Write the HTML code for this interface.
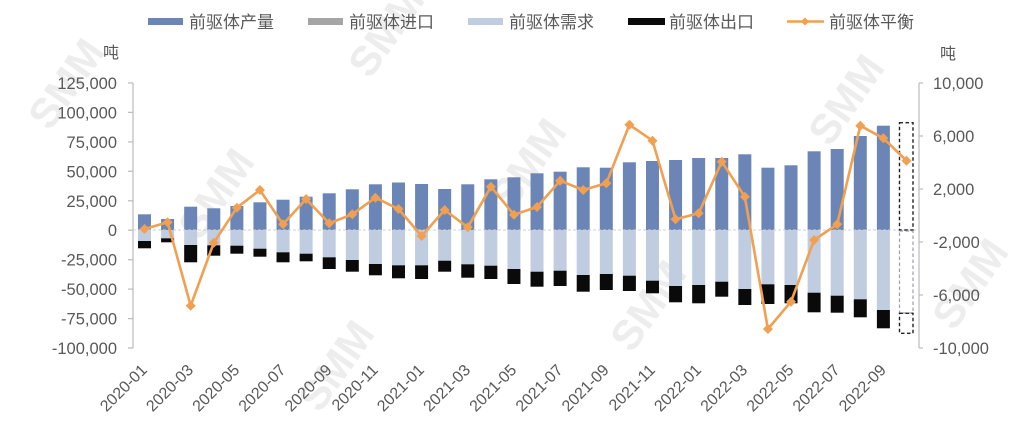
<!DOCTYPE html>
<html><head><meta charset="utf-8"><style>
html,body{margin:0;padding:0;background:#fff;}
svg{display:block;}
text{font-family:"Liberation Sans","Noto Sans CJK SC",sans-serif;fill:#595959;}
text.wm{fill:#ededed;font-weight:bold;font-size:42px;}
</style></head><body>
<svg width="1024" height="428" viewBox="0 0 1024 428" xmlns="http://www.w3.org/2000/svg">
<rect width="1024" height="428" fill="#fff"/>
<g>
<text class="wm" x="0" y="0" transform="translate(78,92) rotate(-55)" text-anchor="middle">SMM</text>
<text class="wm" x="0" y="0" transform="translate(398,40) rotate(-55)" text-anchor="middle">SMM</text>
<text class="wm" x="0" y="0" transform="translate(858,108) rotate(-55)" text-anchor="middle">SMM</text>
<text class="wm" x="0" y="0" transform="translate(982,292) rotate(-55)" text-anchor="middle">SMM</text>
<text class="wm" x="0" y="0" transform="translate(348,374) rotate(-55)" text-anchor="middle">SMM</text>
<text class="wm" x="0" y="0" transform="translate(660,314) rotate(-55)" text-anchor="middle">SMM</text>
<text class="wm" x="0" y="0" transform="translate(540,172) rotate(-55)" text-anchor="middle">SMM</text>
<text class="wm" x="0" y="0" transform="translate(228,202) rotate(-55)" text-anchor="middle">SMM</text>
</g>

<!-- legend -->
<rect x="148" y="18" width="35" height="7" fill="#6b86b6"/>
<text x="189" y="28" font-size="17">前驱体产量</text>
<rect x="308" y="18" width="35" height="7" fill="#a5a5a5"/>
<text x="349" y="28" font-size="17">前驱体进口</text>
<rect x="468" y="18" width="35" height="7" fill="#c0cde1"/>
<text x="509" y="28" font-size="17">前驱体需求</text>
<rect x="628" y="18" width="37" height="7" fill="#0a0a0a"/>
<text x="669" y="28" font-size="17">前驱体出口</text>
<line x1="787" y1="21.5" x2="824" y2="21.5" stroke="#f0a050" stroke-width="2.5"/>
<path d="M805,17.5 L809,21.5 L805,25.5 L801,21.5Z" fill="#f0a050"/>
<text x="829" y="28" font-size="17">前驱体平衡</text>

<!-- unit labels -->
<text x="103" y="58" font-size="16">吨</text>
<text x="940" y="59" font-size="16">吨</text>

<!-- axes -->
<line x1="133" y1="83" x2="133" y2="348" stroke="#bfbfbf" stroke-width="1.3"/>
<line x1="919" y1="83" x2="919" y2="348" stroke="#bfbfbf" stroke-width="1.3"/>
<g stroke="#bfbfbf" stroke-width="1.3">
<line x1="128" y1="83" x2="133" y2="83"/><line x1="128" y1="112.4" x2="133" y2="112.4"/>
<line x1="128" y1="141.9" x2="133" y2="141.9"/><line x1="128" y1="171.3" x2="133" y2="171.3"/>
<line x1="128" y1="200.8" x2="133" y2="200.8"/><line x1="128" y1="230.2" x2="133" y2="230.2"/>
<line x1="128" y1="259.7" x2="133" y2="259.7"/><line x1="128" y1="289.1" x2="133" y2="289.1"/>
<line x1="128" y1="318.6" x2="133" y2="318.6"/><line x1="128" y1="348" x2="133" y2="348"/>
<line x1="919" y1="83" x2="923" y2="83"/><line x1="919" y1="136" x2="923" y2="136"/>
<line x1="919" y1="189" x2="923" y2="189"/><line x1="919" y1="242" x2="923" y2="242"/>
<line x1="919" y1="295" x2="923" y2="295"/><line x1="919" y1="348" x2="923" y2="348"/>
</g>
<g font-size="16.5" text-anchor="end">
<text x="117" y="89">125,000</text>
<text x="117" y="118.4">100,000</text>
<text x="117" y="147.9">75,000</text>
<text x="117" y="177.3">50,000</text>
<text x="117" y="206.8">25,000</text>
<text x="117" y="236.2">0</text>
<text x="117" y="265.7">-25,000</text>
<text x="117" y="295.1">-50,000</text>
<text x="117" y="324.6">-75,000</text>
<text x="117" y="354">-100,000</text>
</g>
<g font-size="16.5">
<text x="933" y="89">10,000</text>
<text x="933" y="142">6,000</text>
<text x="933" y="195">2,000</text>
<text x="933" y="248">-2,000</text>
<text x="933" y="301">-6,000</text>
<text x="933" y="354">-10,000</text>
</g>

<!-- bars -->
<g id="bars"></g>
<line x1="133" y1="230" x2="918" y2="230" stroke="#d0d0d0" stroke-width="1" stroke-dasharray="3,2"/>

<!-- dashed estimate boxes -->
<rect x="899.5" y="122.7" width="13.5" height="107.3" fill="none" stroke="#222" stroke-width="1.4" stroke-dasharray="3.5,2.5"/>
<rect x="899.5" y="231" width="13.5" height="82" fill="none" stroke="#9aa0aa" stroke-width="1.2" stroke-dasharray="3.5,2.5"/>
<rect x="899.5" y="313.3" width="13.5" height="20" fill="none" stroke="#222" stroke-width="1.4" stroke-dasharray="3.5,2.5"/>

<g id="line"></g>
<g id="xl" font-size="16"></g>
</svg>
<script>
var NS="http://www.w3.org/2000/svg";
var prod=[214.3,219,206.7,208.3,206,202.3,199.7,196.7,193.3,189.3,184.3,182.5,184,189,184.3,179.3,177.3,173.3,171.7,167.3,167.7,162.3,161,160,158,158,154.3,167.7,165.3,151.3,149,136,125.7];
var bt=[241,238.3,245,245.3,245.7,248.7,252.3,253.7,257.3,260,264,265.3,265.3,260.7,264.3,265.7,269,271.7,270.7,275,274,275.7,280.7,286,285,281.7,289,284.3,285,292.7,295.7,299.3,310];
var bb=[248.3,242.3,262.3,255.7,253.7,256.7,262.3,261.3,269,271.7,275.3,278.3,279,271.7,277.7,279,284,286.7,286,291.7,290,291,293.3,302.3,303.3,296.7,305,304,303.3,312.3,312.7,317.3,328.3];
var ln=[229,222.3,305.7,242.7,207.7,190,224.3,199,223.3,214.3,197.7,209,236,210,227.3,186.7,214.7,207,180.7,190,183.3,124.7,140.7,219.3,213.3,161.7,196.7,329,301.7,240,224.3,125.7,138.3,160.7];
function cx(i){return 144.5+23.09*i;}
var bars=document.getElementById("bars");
function rect(x,y,w,h,f){var r=document.createElementNS(NS,"rect");r.setAttribute("x",x);r.setAttribute("y",y);r.setAttribute("width",w);r.setAttribute("height",h);r.setAttribute("fill",f);bars.appendChild(r);}
for(var i=0;i<prod.length;i++){
 var x=cx(i)-6.5;
 rect(x,prod[i],13,230-prod[i],"#6b86b6");
 rect(x,230,13,bt[i]-230,"#c0cde1");
 rect(x,bt[i],13,bb[i]-bt[i],"#0a0a0a");
}
var lg=document.getElementById("line");
var pts=ln.map(function(y,i){return cx(i).toFixed(1)+","+y;}).join(" ");
var pl=document.createElementNS(NS,"polyline");
pl.setAttribute("points",pts);pl.setAttribute("fill","none");pl.setAttribute("stroke","#f0a050");pl.setAttribute("stroke-width","2.6");pl.setAttribute("stroke-linejoin","round");
lg.appendChild(pl);
ln.forEach(function(y,i){var x=cx(i);var p=document.createElementNS(NS,"path");
p.setAttribute("d","M"+x+","+(y-5)+" L"+(x+5)+","+y+" L"+x+","+(y+5)+" L"+(x-5)+","+y+"Z");
p.setAttribute("fill","#f0a050");lg.appendChild(p);});
var xl=document.getElementById("xl");
for(var i=0;i<=32;i+=2){
 var y=2020+Math.floor(i/12), m=(i%12)+1;
 var t=document.createElementNS(NS,"text");
 t.setAttribute("transform","translate("+(cx(i)+3.5)+",371) rotate(-45)");
 t.setAttribute("text-anchor","end");
 t.textContent=y+"-"+(m<10?"0"+m:m);
 xl.appendChild(t);
}
</script>
</body></html>
